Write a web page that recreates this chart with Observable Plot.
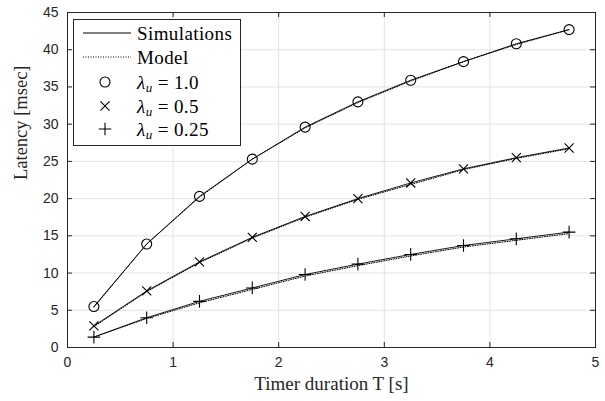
<!DOCTYPE html>
<html>
<head>
<meta charset="utf-8">
<script src="https://cdn.jsdelivr.net/npm/d3@7"></script>
<script src="https://cdn.jsdelivr.net/npm/@observablehq/plot@0.6"></script>
<style>
  html, body { margin: 0; padding: 0; background: #fff; }
  #wrap { position: relative; width: 605px; height: 401px; }
  #legend { position: absolute; left: 0; top: 0; pointer-events: none; }
</style>
</head>
<body>
<div id="wrap"></div>
<script>
// ---- data ----
const timer = [0.25, 0.75, 1.25, 1.75, 2.25, 2.75, 3.25, 3.75, 4.25, 4.75];
const series = ["1.0", "0.5", "0.25"];
const simL100 = [5.5, 13.9, 20.3, 25.3, 29.6, 33.0, 35.9, 38.4, 40.8, 42.7];
const simL050 = [2.9, 7.6, 11.5, 14.8, 17.6, 20.0, 22.1, 24.0, 25.5, 26.8];
const simL025 = [1.4, 4.0, 6.2, 8.0, 9.8, 11.2, 12.5, 13.7, 14.6, 15.5];
const modL100 = [5.4, 13.9, 20.2, 25.3, 29.5, 32.9, 35.8, 38.4, 40.7, 42.7];
const modL050 = [2.8, 7.5, 11.4, 14.7, 17.5, 19.9, 21.9, 23.9, 25.4, 26.7];
const modL025 = [1.4, 3.9, 6.0, 7.8, 9.6, 11.0, 12.3, 13.5, 14.4, 15.3];
const xTicks = [0, 1, 2, 3, 4, 5];
const yTicks = [0, 5, 10, 15, 20, 25, 30, 35, 40, 45];
const xLabel = "Timer duration T [s]";
const yLabel = "Latency [msec]";
const legendLabels = ["Simulations", "Model"];

// ---- build tables ----
const simArrays = [simL100, simL050, simL025];
const modArrays = [modL100, modL050, modL025];
const sim = [], mod = [];
series.forEach((s, i) => {
  timer.forEach((t, j) => {
    sim.push({series: s, t, v: simArrays[i][j]});
    mod.push({series: s, t, v: modArrays[i][j]});
  });
});

const W = 605, H = 401;
const mL = 67, mR = 10, mT = 12, mB = 54;
const plotH = H - mT - mB;
const tickLen = 5;
const sansFont = "'Liberation Sans', Arial, Helvetica, sans-serif";
const serifFont = "'Liberation Serif', 'Times New Roman', serif";
const symbolNames = ["circle", "times", "plus"];
const symbolR = [5, 4.2, 4.15];

const chart = Plot.plot({
  width: W,
  height: H,
  marginLeft: mL,
  marginRight: mR,
  marginTop: mT,
  marginBottom: mB,
  style: {fontFamily: sansFont, fontSize: "14px", color: "#262626", background: "#fff"},
  x: {domain: [0, 5], ticks: xTicks},
  y: {domain: [0, 45], ticks: yTicks},
  marks: [
    Plot.gridX(xTicks, {stroke: "#e3e3e3", strokeOpacity: 1, strokeWidth: 1}),
    Plot.gridY(yTicks, {stroke: "#e3e3e3", strokeOpacity: 1, strokeWidth: 1}),
    // inward ticks on all four sides
    Plot.tickX(xTicks, {x: d => d, insetTop: plotH - tickLen, stroke: "#262626", strokeWidth: 1}),
    Plot.tickX(xTicks, {x: d => d, insetBottom: plotH - tickLen, stroke: "#262626", strokeWidth: 1}),
    Plot.tickY(yTicks, {y: d => d, insetRight: W - mL - mR - tickLen, stroke: "#262626", strokeWidth: 1}),
    Plot.tickY(yTicks, {y: d => d, insetLeft: W - mL - mR - tickLen, stroke: "#262626", strokeWidth: 1}),
    Plot.axisX(xTicks, {tickSize: 0, tickPadding: 10, label: null, fontSize: 14, fill: "#262626"}),
    Plot.axisY(yTicks, {tickSize: 0, tickPadding: 9, label: null, fontSize: 14, fill: "#262626"}),
    // model (dotted)
    Plot.line(mod, {x: "t", y: "v", z: "series", stroke: "#000", strokeWidth: 1, strokeDasharray: "1,1.5"}),
    // simulations (solid)
    Plot.line(sim, {x: "t", y: "v", z: "series", stroke: "#000", strokeWidth: 0.9}),
    ...series.map((s, i) =>
      Plot.dot(sim.filter(d => d.series === s), {x: "t", y: "v", symbol: symbolNames[i], r: symbolR[i], stroke: "#000", strokeWidth: 1.1, fill: "none"})
    ),
    Plot.frame({stroke: "#262626", strokeWidth: 1}),
    Plot.text([xLabel], {frameAnchor: "bottom", dy: 36, lineAnchor: "middle", fontFamily: serifFont, fontSize: 19, fill: "#262626"}),
    Plot.text([yLabel], {frameAnchor: "left", dx: -46, rotate: -90, lineAnchor: "middle", fontFamily: serifFont, fontSize: 18.5, fill: "#262626"})
  ]
});

const wrap = document.getElementById("wrap");
wrap.appendChild(chart);

// ---- legend overlay ----
const lg = d3.select(wrap).append("svg")
  .attr("id", "legend").attr("width", W).attr("height", H);
lg.append("rect").attr("x", 73.5).attr("y", 19.5).attr("width", 167).attr("height", 126)
  .attr("fill", "#fff").attr("stroke", "#262626").attr("stroke-width", 1);
const rowY = [33, 57, 82, 106, 129];
const textX = 137;
const tstyle = sel => sel.attr("font-family", serifFont).attr("font-size", 19).attr("fill", "#000")
  .attr("dominant-baseline", "central").attr("letter-spacing", 0.4);
lg.append("line").attr("x1", 83).attr("x2", 131).attr("y1", rowY[0]).attr("y2", rowY[0])
  .attr("stroke", "#000").attr("stroke-width", 1);
lg.append("line").attr("x1", 83).attr("x2", 131).attr("y1", rowY[1]).attr("y2", rowY[1])
  .attr("stroke", "#000").attr("stroke-width", 1).attr("stroke-dasharray", "1,1.5");
lg.append("text").attr("x", textX).attr("y", rowY[0]).text(legendLabels[0]).call(tstyle);
lg.append("text").attr("x", textX).attr("y", rowY[1]).text(legendLabels[1]).call(tstyle);
const symbols = [d3.symbolCircle, d3.symbolTimes, d3.symbolPlus];
series.forEach((s, i) => {
  const y = rowY[2 + i];
  const size = Math.PI * symbolR[i] * symbolR[i];
  lg.append("path").attr("d", d3.symbol(symbols[i], size)())
    .attr("transform", `translate(105,${y})`)
    .attr("fill", "none").attr("stroke", "#000").attr("stroke-width", 1.1);
  const t = lg.append("text").attr("x", textX).attr("y", y).call(tstyle);
  t.append("tspan").attr("font-style", "italic").text("λ");
  t.append("tspan").attr("font-style", "italic").attr("font-size", 13).attr("dy", 5).text("u");
  t.append("tspan").attr("dy", -5).text(" = " + s);
});
</script>
</body>
</html>
